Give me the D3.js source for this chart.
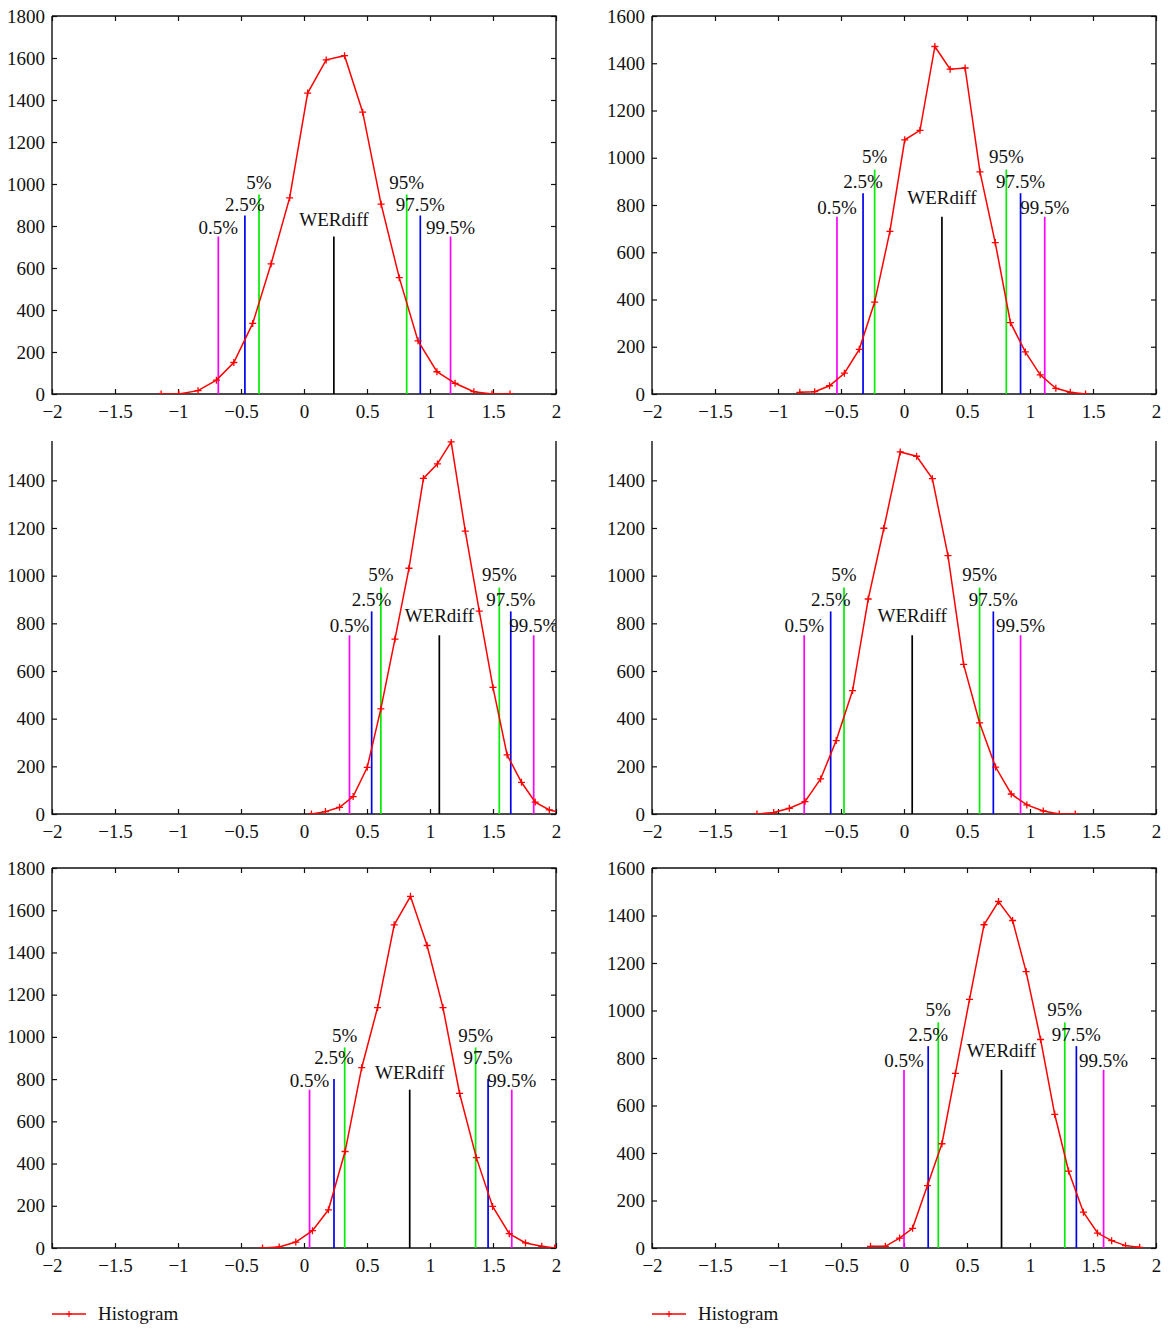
<!DOCTYPE html>
<html>
<head>
<meta charset="utf-8">
<script src="https://cdn.jsdelivr.net/npm/d3@7"></script>
<style>
body { margin: 0; background: #fff; }
svg { display: block; }
text { font-family: "Liberation Serif", "DejaVu Serif", serif; fill: #111; }
</style>
</head>
<body>
<svg id="fig" width="1168" height="1333"></svg>
<script>
// histogram bin centres / counts, one pair per panel
const p1X = [-1.134, -0.993, -0.841, -0.695, -0.557, -0.407, -0.261, -0.114, 0.029, 0.176, 0.322, 0.466, 0.612, 0.756, 0.905, 1.055, 1.199, 1.348, 1.492, 1.635];
const p1Count = [0, 0, 16, 66, 150, 336, 620, 934, 1433, 1591, 1611, 1342, 904, 554, 253, 106, 51, 11, 0, 0];

const p2X = [-0.827, -0.709, -0.591, -0.473, -0.355, -0.233, -0.112, 0.006, 0.127, 0.245, 0.366, 0.485, 0.603, 0.724, 0.845, 0.963, 1.081, 1.205, 1.320, 1.441];
const p2Count = [7, 10, 35, 88, 189, 389, 688, 1076, 1116, 1471, 1375, 1380, 940, 641, 302, 178, 81, 24, 7, 0];

const p3X = [0.059, 0.170, 0.282, 0.390, 0.502, 0.610, 0.722, 0.833, 0.948, 1.059, 1.168, 1.280, 1.391, 1.500, 1.612, 1.726, 1.835, 1.947, 2.060];
const p3Count = [0, 10, 28, 73, 196, 441, 734, 1031, 1408, 1469, 1561, 1187, 851, 531, 248, 133, 50, 17, 4];

const p4X = [-1.167, -1.034, -0.910, -0.786, -0.662, -0.538, -0.408, -0.284, -0.160, -0.030, 0.100, 0.225, 0.349, 0.473, 0.600, 0.727, 0.851, 0.975, 1.105, 1.232, 1.359];
const p4Count = [0, 6, 24, 52, 147, 308, 518, 902, 1199, 1519, 1501, 1407, 1084, 628, 382, 197, 84, 38, 13, 0, 0];

const p5X = [-0.329, -0.197, -0.065, 0.067, 0.194, 0.326, 0.458, 0.584, 0.716, 0.845, 0.977, 1.103, 1.235, 1.368, 1.497, 1.629, 1.758, 1.887, 1.990];
const p5Count = [0, 5, 28, 82, 181, 457, 854, 1139, 1531, 1666, 1433, 1139, 732, 428, 197, 68, 24, 8, 0];

const p6X = [-0.266, -0.148, -0.035, 0.068, 0.186, 0.301, 0.408, 0.520, 0.635, 0.750, 0.862, 0.969, 1.084, 1.196, 1.306, 1.424, 1.536, 1.648, 1.758, 1.870];
const p6Count = [7, 7, 42, 83, 263, 439, 735, 1047, 1361, 1459, 1379, 1164, 878, 563, 324, 151, 63, 31, 10, 3];

// percentile / WERdiff markers: positions per panel, same label order
const markLabels = ["0.5%", "2.5%", "5%", "WERdiff", "95%", "97.5%", "99.5%"];
const p1Marks = [-0.680, -0.469, -0.357, 0.237, 0.815, 0.923, 1.163];
const p2Marks = [-0.532, -0.325, -0.233, 0.301, 0.812, 0.925, 1.117];
const p3Marks = [0.361, 0.537, 0.610, 1.074, 1.550, 1.641, 1.823];
const p4Marks = [-0.792, -0.582, -0.476, 0.065, 0.600, 0.709, 0.925];
const p5Marks = [0.044, 0.238, 0.323, 0.839, 1.362, 1.461, 1.649];
const p6Marks = [0.000, 0.192, 0.272, 0.774, 1.276, 1.368, 1.584];
const markHeights = [750, 850, 950, 750, 950, 850, 750];
const markHeights5 = [750, 800, 950, 750, 950, 800, 750];

const xTicks = [-2, -1.5, -1, -0.5, 0, 0.5, 1, 1.5, 2];
const yMaxes = [1800, 1600, 1565, 1565, 1800, 1600];
const legendLabel = "Histogram";

const panels = [
  {x: p1X, y: p1Count, marks: p1Marks, h: markHeights, yMax: yMaxes[0]},
  {x: p2X, y: p2Count, marks: p2Marks, h: markHeights, yMax: yMaxes[1]},
  {x: p3X, y: p3Count, marks: p3Marks, h: markHeights, yMax: yMaxes[2]},
  {x: p4X, y: p4Count, marks: p4Marks, h: markHeights, yMax: yMaxes[3]},
  {x: p5X, y: p5Count, marks: p5Marks, h: markHeights5, yMax: yMaxes[4]},
  {x: p6X, y: p6Count, marks: p6Marks, h: markHeights, yMax: yMaxes[5]}
];

// label centres sit at fixed heights in data units (text placed like matlab text())
const labelLevel = [790, 900, 1005, 830, 1005, 900, 790];
const markColors = ["#ff00ff", "#0000ee", "#00ee00", "#000000", "#00ee00", "#0000ee", "#ff00ff"];
const colLeft = [52, 652];
const plotW = 504;
const fontSize = 19;
const rows = [
  {top: 16, bottom: 394, box: true},
  {top: 441, bottom: 814, box: false},   // top of this row is cut off in the figure
  {top: 868, bottom: 1248, box: true}
];

const svg = d3.select('#fig');
const fmt = d => (d < 0 ? "\u2212" + Math.abs(d) : String(d));

panels.forEach((p, i) => {
  const left = colLeft[i % 2], right = left + plotW;
  const row = rows[Math.floor(i / 2)];

  const x = d3.scaleLinear().domain([-2, 2]).range([left, right]);
  const y = d3.scaleLinear().domain([0, p.yMax]).range([row.bottom, row.top]);
  const yTicks = d3.range(0, p.yMax + 1, 200);

  const g = svg.append('g');

  const clipId = 'clip' + i;
  svg.append('clipPath').attr('id', clipId)
    .append('rect')
    .attr('x', left).attr('y', row.top - 2)
    .attr('width', plotW).attr('height', row.bottom - row.top + 2);

  // axes, ticks point inward
  const xAxis = d3.axisBottom(x).tickValues(xTicks).tickFormat(fmt)
    .tickSizeInner(-5).tickSizeOuter(0).tickPadding(11);
  const yAxis = d3.axisLeft(y).tickValues(yTicks).tickFormat(fmt)
    .tickSizeInner(-5).tickSizeOuter(0).tickPadding(7);

  const gx = g.append('g').attr('transform', `translate(0,${row.bottom})`).call(xAxis);
  const gy = g.append('g').attr('transform', `translate(${left},0)`).call(yAxis);
  g.append('g').attr('transform', `translate(${right},0)`)
    .call(d3.axisRight(y).tickValues(yTicks).tickFormat('').tickSizeInner(-5).tickSizeOuter(0));
  if (row.box) {
    g.append('g').attr('transform', `translate(0,${row.top})`)
      .call(d3.axisTop(x).tickValues(xTicks).tickFormat('').tickSizeInner(-5).tickSizeOuter(0));
  }
  g.selectAll('.domain').remove();
  g.selectAll('.tick line').attr('stroke', '#111').attr('stroke-width', 1.2);
  [gx, gy].forEach(a => a.selectAll('text')
    .attr('font-size', fontSize).attr('font-family', '"Liberation Serif", serif').attr('fill', '#111'));

  // frame (open at the top for the cropped middle row)
  const framePts = row.box
    ? [[left, row.top], [right, row.top], [right, row.bottom], [left, row.bottom], [left, row.top]]
    : [[right, row.top], [right, row.bottom], [left, row.bottom], [left, row.top]];
  g.append('path')
    .attr('d', d3.line()(framePts))
    .attr('fill', 'none').attr('stroke', '#111').attr('stroke-width', 1.4);

  const inner = g.append('g').attr('clip-path', `url(#${clipId})`);

  // percentile lines
  const mk = p.marks.map((m, k) => ({pos: m, h: p.h[k], lab: labelLevel[k], label: markLabels[k], color: markColors[k]}));
  inner.selectAll('line.mark').data(mk).enter().append('line')
    .attr('class', 'mark')
    .attr('x1', d => x(d.pos)).attr('x2', d => x(d.pos))
    .attr('y1', y(0)).attr('y2', d => y(d.h))
    .attr('stroke', d => d.color).attr('stroke-width', 1.7);

  inner.selectAll('text.mlab').data(mk).enter().append('text')
    .attr('class', 'mlab')
    .attr('x', d => x(d.pos))
    .attr('y', d => y(d.lab))
    .attr('dy', '0.33em')
    .attr('text-anchor', 'middle')
    .attr('font-size', fontSize)
    .text(d => d.label);

  // histogram curve
  const pts = p.x.map((v, k) => [v, p.y[k]]);
  inner.append('path')
    .attr('d', d3.line().x(d => x(d[0])).y(d => y(d[1]))(pts))
    .attr('fill', 'none').attr('stroke', '#ff0000').attr('stroke-width', 1.5);

  inner.selectAll('path.plus').data(pts).enter().append('path')
    .attr('class', 'plus')
    .attr('d', d => `M${x(d[0]) - 3.5},${y(d[1])}h7M${x(d[0])},${y(d[1]) - 3.5}v7`)
    .attr('stroke', '#ff0000').attr('stroke-width', 1.3);

  // legend below bottom row
  if (Math.floor(i / 2) === 2) {
    const ly = 1314;
    const lg = svg.append('g');
    lg.append('line').attr('x1', left).attr('x2', left + 34).attr('y1', ly).attr('y2', ly)
      .attr('stroke', '#ff0000').attr('stroke-width', 1.5);
    lg.append('path').attr('d', `M${left + 14},${ly}h6M${left + 17},${ly - 3}v6`)
      .attr('stroke', '#ff0000').attr('stroke-width', 1.2);
    lg.append('text').attr('x', left + 46).attr('y', ly + 6)
      .attr('font-size', fontSize).text(legendLabel);
  }
});
</script>
</body>
</html>
